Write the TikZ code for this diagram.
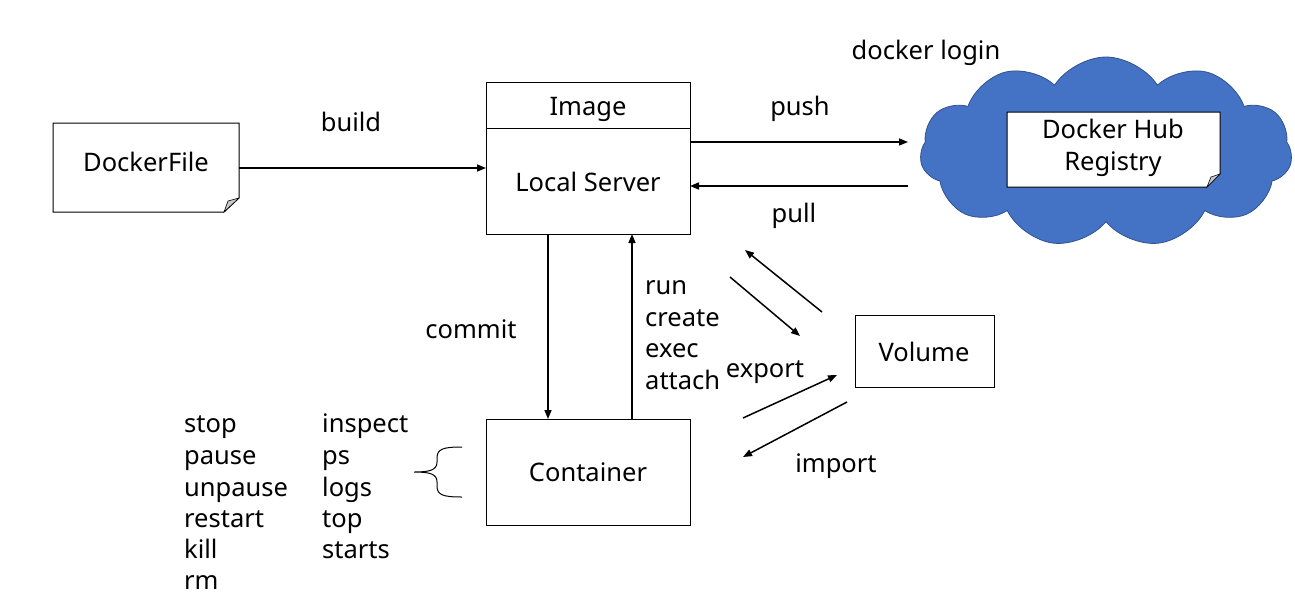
\documentclass[tikz,border=0pt]{standalone}
\usepackage{fontspec}
\setmainfont{Noto Sans}
\usetikzlibrary{arrows.meta,shapes.symbols}
\definecolor{cloudblue}{HTML}{4472C4}
\definecolor{cloudedge}{HTML}{2F528F}
\definecolor{foldgray}{HTML}{C8C8C8}
\tikzset{
  lbl/.style={inner sep=0pt,font=\fontsize{25.5}{30}\selectfont},
  lblw/.style={lbl,anchor=base west},
  lblc/.style={lbl,anchor=base},
  box/.style={draw=black,line width=1pt},
  arr/.style={line width=1.5pt,-{Triangle[length=9pt,width=7pt]}},
}
\begin{document}
\begin{tikzpicture}[x=1pt,y=-1pt]
\useasboundingbox (0,0) rectangle (1295,611);
% DockerFile with folded corner
\draw[box,fill=white] (53,123) -- (239,123) -- (239,198) -- (224,212) -- (53,212) -- cycle;
\filldraw[fill=foldgray,draw=black,line width=0.6pt] (239,198) -- (224,212) -- (228,201) -- cycle;
\coordinate (dfE) at (239,168);
\node[lblc] (df) at (146,171) {DockerFile};
% Image / Local Server
\draw[box] (486,82) rectangle (690,234);
\draw[box] (486,128) -- (690,128);
\node[lblc] (img) at (588,115) {Image};
\node[lblc] (ls) at (588,191) {Local Server};
\coordinate (lsW) at (486,168);
% Cloud
\node[cloud,cloud puffs=11,cloud puff arc=115,aspect=2,fill=cloudblue,draw=cloudedge,line width=0.8pt,
      minimum width=372pt,minimum height=190pt,cloud ignores aspect] (cloud) at (1106,152) {};
% Docker Hub Registry with folded corner
\draw[box,fill=white] (1007,112) -- (1220,112) -- (1220,174) -- (1207,187) -- (1007,187) -- cycle;
\filldraw[fill=foldgray,draw=black,line width=0.6pt] (1220,174) -- (1207,187) -- (1211,177) -- cycle;
\node[lblc] (dh1) at (1113,138) {Docker Hub};
\node[lblc] (dh2) at (1113,170) {Registry};
\node[lblc] (login) at (926,59) {docker login};
% Volume
\draw[box] (855,315) rectangle (994,387);
\node[lblc] (vol) at (924,361) {Volume};
% Container
\draw[box] (486,419) rectangle (690,525);
\node[lblc] (cont) at (588,481) {Container};
% arrows
\coordinate (pushS) at (690,142); \coordinate (pushE) at (908,142);
\coordinate (pullS) at (908,186); \coordinate (pullE) at (690,186);
\draw[arr] (dfE) -- (lsW);
\draw[arr] (pushS) -- (pushE);
\draw[arr] (pullS) -- (pullE);
\coordinate (cmS) at (548,234); \coordinate (cmE) at (548,419);
\coordinate (runS) at (632,419); \coordinate (runE) at (632,234);
\draw[arr] (cmS) -- (cmE);
\draw[arr] (runS) -- (runE);
\coordinate (a1s) at (822,312); \coordinate (a1e) at (745,250);
\coordinate (a2s) at (730,277); \coordinate (a2e) at (800,336);
\coordinate (a3s) at (743,418); \coordinate (a3e) at (837,375);
\coordinate (a4s) at (847,402); \coordinate (a4e) at (743,457);
\draw[arr] (a1s) -- (a1e);
\draw[arr] (a2s) -- (a2e);
\draw[arr] (a3s) -- (a3e);
\draw[arr] (a4s) -- (a4e);
% labels
\node[lblc] (build) at (351,131) {build};
\node[lblc] (push) at (800,115) {push};
\node[lblc] (pull) at (794,222) {pull};
\node[lblc] (commit) at (471,338) {commit};
\node[lblw] (run) at (645,294) {run};
\node[lblw] (create) at (645,326) {create};
\node[lblw] (exec) at (645,357) {exec};
\node[lblw] (attach) at (645,389) {attach};
\node[lblc] (export) at (765,377) {export};
\node[lblc] (import) at (836,472) {import};
% brace
\draw[line width=1pt] (462,447) .. controls (443,447) and (437,449) .. (437,458)
  -- (437,462) .. controls (437,470) and (430,472) .. (414,472)
  .. controls (430,472) and (437,474) .. (437,482) -- (437,486)
  .. controls (437,495) and (443,497) .. (462,497);
% lists
\node[lblw] (l1) at (184,432) {stop};
\node[lblw] (l2) at (184,464) {pause};
\node[lblw] (l3) at (184,496) {unpause};
\node[lblw] (l4) at (184,527) {restart};
\node[lblw] (l5) at (184,558) {kill};
\node[lblw] (l6) at (184,589) {rm};
\node[lblw] (r1) at (322,432) {inspect};
\node[lblw] (r2) at (322,464) {ps};
\node[lblw] (r3) at (322,496) {logs};
\node[lblw] (r4) at (322,527) {top};
\node[lblw] (r5) at (322,558) {starts};
\end{tikzpicture}
\end{document}
